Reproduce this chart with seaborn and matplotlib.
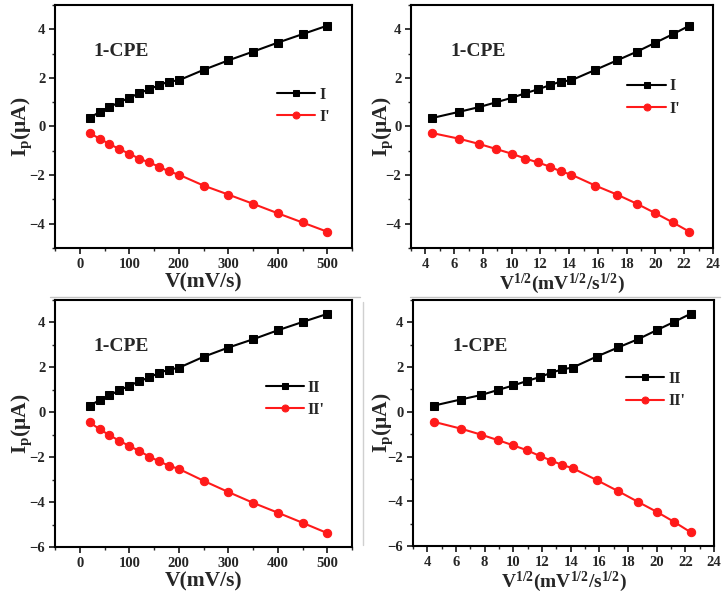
import numpy as np
import pandas as pd
import matplotlib
matplotlib.use("Agg")
import matplotlib.pyplot as plt
from matplotlib.ticker import MultipleLocator
from matplotlib.lines import Line2D
import seaborn as sns

# Scan rates (mV/s) and peak currents (uA)
scan_rate = [20, 40, 60, 80, 100, 120, 140, 160, 180, 200, 250, 300, 350, 400, 450, 500]
ip_I = [0.35, 0.60, 0.80, 1.00, 1.18, 1.37, 1.53, 1.70, 1.85, 1.90, 2.33, 2.72, 3.08, 3.45, 3.80, 4.15]
ip_Ip = [-0.27, -0.50, -0.72, -0.93, -1.12, -1.32, -1.48, -1.65, -1.85, -1.98, -2.43, -2.80, -3.18, -3.57, -3.95, -4.33]
ip_II = [0.28, 0.55, 0.75, 0.98, 1.18, 1.38, 1.55, 1.75, 1.90, 1.98, 2.47, 2.88, 3.25, 3.65, 4.02, 4.38]
ip_IIp = [-0.45, -0.75, -1.02, -1.27, -1.50, -1.72, -1.97, -2.18, -2.38, -2.52, -3.05, -3.55, -4.03, -4.47, -4.92, -5.38]

sns.set_style("ticks")
plt.rcParams["font.family"] = ["Liberation Serif", "DejaVu Serif"]
plt.rcParams["font.weight"] = "bold"
plt.rcParams["mathtext.fontset"] = "custom"
plt.rcParams["mathtext.rm"] = "Liberation Serif:bold"
plt.rcParams["mathtext.it"] = "Liberation Serif:bold"
plt.rcParams["mathtext.bf"] = "Liberation Serif:bold"

sqrt_rate = np.sqrt(scan_rate)
df = pd.DataFrame({"v": scan_rate, "sv": sqrt_rate,
                   "I": ip_I, "I'": ip_Ip, "II": ip_II, "II'": ip_IIp})

fig = plt.figure(figsize=(7.24, 5.98), dpi=100)
W, H = 724, 598

def px_axes(l, t, r, b):
    return fig.add_axes([l / W, 1 - b / H, (r - l) / W, (b - t) / H])

panels = [
    (px_axes(55, 5, 352, 248), "v", ("I", "I'"), (-50, 550), (-5, 5), 100, 50, 0.975, 0.585, -0.071),
    (px_axes(411, 5, 713, 248), "sv", ("I", "I'"), (3, 24), (-5, 5), 2, 1, 0.94, 0.62, -0.053),
    (px_axes(55, 300, 352, 547), "v", ("II", "II'"), (-50, 550), (-6, 5), 100, 50, 0.957, 0.60, -0.071),
    (px_axes(413, 300, 714, 546), "sv", ("II", "II'"), (3, 24), (-6, 5), 2, 1, 0.953, 0.633, -0.06),
]

xlabels = {"v": "V(mV/s)", "sv": r"V$^{1/2}$(mV$^{1/2}$/s$^{1/2}$)"}
xlabel_size = {"v": 15.5, "sv": 14}
axes = []

for ax, xcol, (ox, red), xlim, ylim, xmaj, xmin, lgx, lgy, ylx in panels:
    sns.lineplot(data=df, x=xcol, y=ox, ax=ax, color="black", marker="s",
                 markersize=5.2, markeredgecolor="black", linewidth=1.5, label=ox)
    sns.lineplot(data=df, x=xcol, y=red, ax=ax, color="#ff1a1a", marker="o",
                 markersize=6, markeredgecolor="#ff1a1a", linewidth=1.5, label=red)
    ax.set_xlim(*xlim)
    ax.set_ylim(*ylim)
    ax.xaxis.set_major_locator(MultipleLocator(xmaj))
    ax.xaxis.set_minor_locator(MultipleLocator(xmin))
    ax.yaxis.set_major_locator(MultipleLocator(2))
    ax.yaxis.set_minor_locator(MultipleLocator(1))
    ax.tick_params(which="major", direction="out", length=4, width=1.3,
                   labelsize=10.5, pad=3)
    ax.tick_params(which="minor", direction="out", length=2.5, width=1.0)
    for sp in ax.spines.values():
        sp.set_linewidth(1.5)
        sp.set_color("black")
    ax.set_xlabel(xlabels[xcol], fontsize=xlabel_size[xcol], fontweight="bold", labelpad=1)
    ax.set_ylabel(r"I$_\mathrm{p}$(μA)", fontsize=15.5, fontweight="bold")
    ax.yaxis.set_label_coords(ylx, 0.5)
    ax.text(0.13, 0.81, "1-CPE", transform=ax.transAxes, fontsize=14,
            fontweight="bold", va="center", ha="left")
    leg = ax.legend(loc="center right", bbox_to_anchor=(lgx, lgy), frameon=False,
                    handlelength=2.4, handletextpad=0.25, labelspacing=0.4,
                    prop={"weight": "bold", "size": 11.5})
    for h in leg.legend_handles:
        h.set_markersize(5)
    axes.append(ax)

# faint scan borders between the panels
fig.add_artist(Line2D([50 / W, 360 / W], [1 - 297 / H] * 2, color="#c4c4c4", lw=1.0))
fig.add_artist(Line2D([410 / W, 720 / W], [1 - 297 / H] * 2, color="#c4c4c4", lw=1.0))
fig.add_artist(Line2D([363 / W] * 2, [1 - 302 / H, 1 - 545 / H], color="#d0d0d0", lw=1.0))

# bold tick labels once the ticks exist
fig.canvas.draw()
for ax in axes:
    for lab in ax.get_xticklabels() + ax.get_yticklabels():
        lab.set_fontweight("bold")
        lab.set_fontsize(10.5)

fig.savefig("out.png", dpi=100)
